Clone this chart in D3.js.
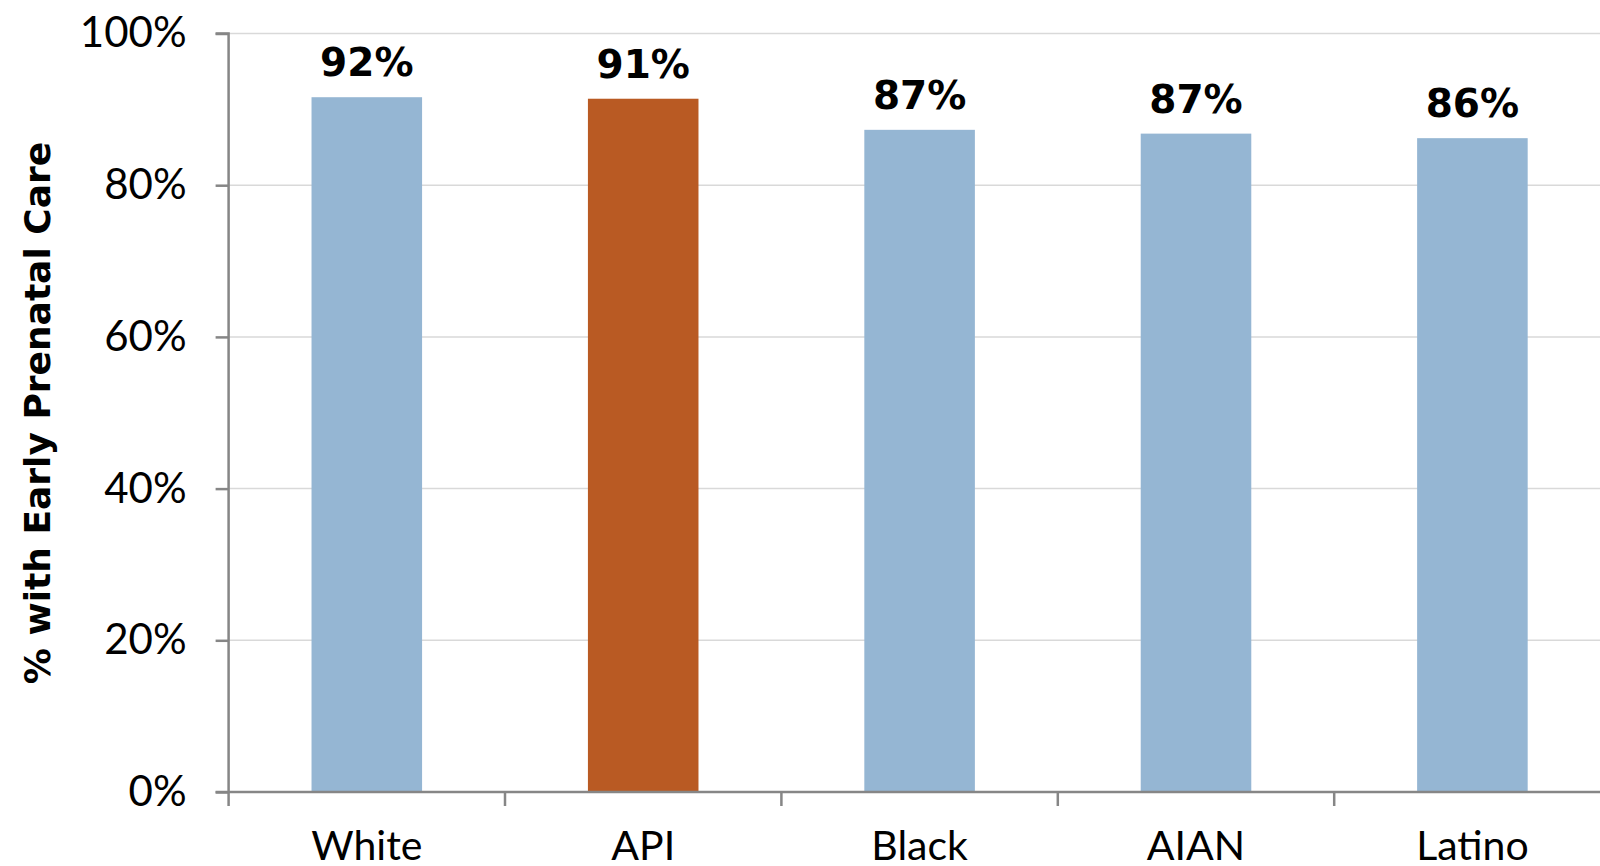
<!DOCTYPE html>
<html>
<head>
<meta charset="utf-8">
<script src="https://cdn.jsdelivr.net/npm/d3@7"></script>
<style>
  html, body { margin: 0; padding: 0; background: #fff; }
  svg { display: block; }
</style>
</head>
<body>
<svg id="chart" width="1600" height="866"></svg>
<script>
const categories = ["White", "API", "Black", "AIAN", "Latino"];
const values = [0.916, 0.914, 0.873, 0.868, 0.862];
const highlighted = ["API"];
const yTicks = [0, 0.2, 0.4, 0.6, 0.8, 1.0];
const yTitle = "% with Early Prenatal Care";

const W = 1600, H = 866;
const margin = { left: 228.6, top: 33.5, bottom: 792 };
const plotRight = 1610.6;
const FONT = "Lato, 'Open Sans', sans-serif";
const BOLDFONT = "'DejaVu Sans', Lato, sans-serif";

const svg = d3.select("#chart");

const x = d3.scaleBand()
  .domain(categories)
  .range([margin.left, plotRight])
  .paddingInner(0.6)
  .paddingOuter(0.3);

const y = d3.scaleLinear()
  .domain([0, 1])
  .range([margin.bottom, margin.top]);

// gridlines
svg.append("g")
  .selectAll("line")
  .data(yTicks.filter(d => d > 0))
  .join("line")
  .attr("x1", margin.left)
  .attr("x2", plotRight)
  .attr("y1", d => y(d))
  .attr("y2", d => y(d))
  .attr("stroke", "#d9d9d9")
  .attr("stroke-width", 1.5);

// bars
svg.append("g")
  .selectAll("rect")
  .data(categories.map((c, i) => ({ c, v: values[i] })))
  .join("rect")
  .attr("x", d => x(d.c))
  .attr("width", x.bandwidth())
  .attr("y", d => y(d.v))
  .attr("height", d => y(0) - y(d.v))
  .attr("fill", d => highlighted.includes(d.c) ? "#b95a23" : "#95b6d3");

// value labels
svg.append("g")
  .selectAll("text")
  .data(categories.map((c, i) => ({ c, v: values[i] })))
  .join("text")
  .attr("x", d => x(d.c) + x.bandwidth() / 2)
  .attr("y", d => y(d.v) - 21)
  .attr("text-anchor", "middle")
  .attr("font-family", BOLDFONT)
  .attr("font-weight", "bold")
  .attr("font-size", 39)
  .attr("fill", "#000")
  .text(d => d3.format(".0%")(d.v));

// y axis
const yAxis = d3.axisLeft(y)
  .tickValues(yTicks)
  .tickSize(13)
  .tickPadding(29)
  .tickFormat(d3.format(".0%"));

const gy = svg.append("g")
  .attr("transform", `translate(${margin.left},0)`)
  .call(yAxis);
gy.select(".domain").attr("stroke", "#868686").attr("stroke-width", 2.5)
  .attr("d", `M-13,${y(1)}H0V${y(0)}`);
gy.selectAll(".tick line").attr("stroke", "#868686").attr("stroke-width", 2.5);
gy.selectAll(".tick text")
  .attr("font-family", FONT)
  .attr("font-size", 42)
  .attr("fill", "#000");

// x axis baseline
svg.append("line")
  .attr("x1", margin.left - 13)
  .attr("x2", plotRight)
  .attr("y1", y(0))
  .attr("y2", y(0))
  .attr("stroke", "#868686")
  .attr("stroke-width", 2.5);

// x category boundary ticks
const boundaries = d3.range(categories.length + 1).map(i => margin.left + i * x.step());
svg.append("g")
  .selectAll("line")
  .data(boundaries)
  .join("line")
  .attr("x1", d => d)
  .attr("x2", d => d)
  .attr("y1", y(0))
  .attr("y2", y(0) + 14)
  .attr("stroke", "#868686")
  .attr("stroke-width", 2.5);

// x labels
svg.append("g")
  .selectAll("text")
  .data(categories)
  .join("text")
  .attr("x", d => x(d) + x.bandwidth() / 2)
  .attr("y", 860)
  .attr("text-anchor", "middle")
  .attr("font-family", FONT)
  .attr("font-size", 41)
  .attr("fill", "#000")
  .text(d => d);

// y title
svg.append("text")
  .attr("transform", "translate(50,413) rotate(-90)")
  .attr("text-anchor", "middle")
  .attr("font-family", BOLDFONT)
  .attr("font-weight", "bold")
  .attr("font-size", 36)
  .attr("fill", "#000")
  .text(yTitle);
</script>
</body>
</html>
